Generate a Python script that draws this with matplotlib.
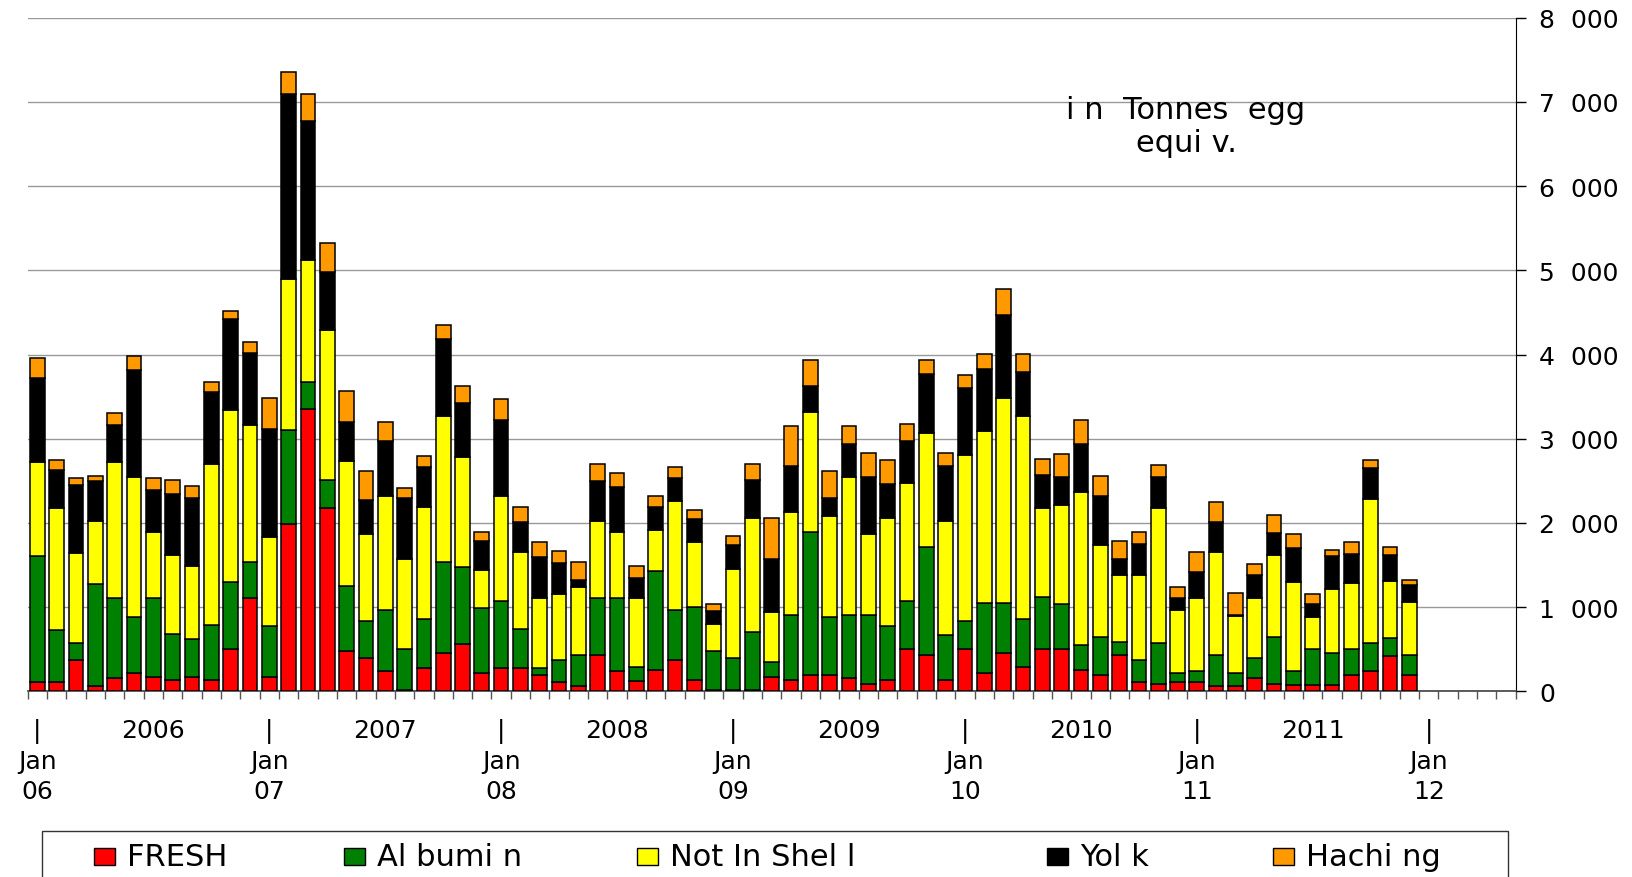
#!/usr/bin/env python3
"""Monthly egg product volumes as stacked bars, Jan 2006 - Dec 2011."""

import matplotlib

matplotlib.use("Agg")
import matplotlib.pyplot as plt
import numpy as np
from matplotlib.patches import Rectangle

# one value per month, Jan 06 .. Dec 11 (tonnes egg equivalent)
fresh = [
    106, 106, 373, 63, 155, 218, 174, 135, 174, 135, 508, 1103,
    169, 1984, 3348, 2177, 484, 397, 242, 10, 281, 460, 566, 218,
    281, 281, 194, 106, 63, 435, 242, 126, 256, 373, 131, 10,
    10, 10, 169, 135, 194, 194, 155, 87, 135, 508, 435, 135,
    508, 218, 460, 290, 508, 508, 256, 194, 435, 106, 87, 106,
    106, 63, 63, 155, 87, 80, 80, 80, 196, 239, 414, 196,
]
albumin = [
    1500, 620, 198, 1214, 948, 662, 929, 542, 445, 658, 793, 435,
    605, 1122, 329, 329, 764, 435, 726, 498, 575, 1078, 910, 769,
    793, 454, 87, 267, 372, 668, 871, 164, 1171, 595, 870, 474,
    387, 690, 184, 770, 1693, 686, 750, 818, 639, 566, 1282, 528,
    324, 832, 590, 566, 614, 532, 291, 445, 155, 267, 484, 112,
    136, 372, 155, 242, 552, 159, 424, 371, 308, 329, 223, 239,
]
not_in_shell = [
    1113, 1451, 1074, 740, 1616, 1660, 784, 944, 866, 1902, 2037, 1621,
    1064, 1790, 1442, 1781, 1490, 1031, 1354, 1064, 1331, 1728, 1311, 455,
    1248, 920, 832, 788, 808, 914, 774, 823, 484, 1291, 775, 319,
    1054, 1355, 590, 1224, 1427, 1200, 1635, 958, 1282, 1403, 1355, 1354,
    1974, 2046, 2433, 2410, 1055, 1171, 1824, 1093, 789, 1006, 1606, 750,
    871, 1224, 677, 716, 982, 1061, 382, 769, 785, 1713, 673, 626,
]
yolk = [
    1006, 455, 808, 484, 440, 1272, 498, 721, 813, 861, 1079, 857,
    1273, 2192, 1654, 696, 465, 411, 653, 721, 474, 919, 633, 348,
    895, 353, 484, 363, 78, 484, 542, 232, 276, 276, 275, 155,
    291, 460, 629, 542, 314, 218, 401, 677, 411, 498, 702, 654,
    798, 726, 992, 532, 387, 329, 570, 590, 193, 372, 363, 135,
    300, 349, 15, 266, 256, 398, 148, 382, 340, 372, 308, 196,
]
haching = [
    237, 116, 82, 53, 141, 170, 145, 169, 140, 121, 97, 130,
    372, 266, 315, 339, 363, 339, 218, 126, 135, 169, 208, 97,
    257, 184, 179, 145, 213, 199, 164, 145, 135, 126, 102, 73,
    106, 184, 484, 474, 305, 315, 204, 290, 276, 194, 159, 159,
    155, 184, 300, 208, 194, 280, 276, 232, 208, 146, 145, 131,
    242, 242, 261, 135, 213, 169, 122, 80, 148, 95, 96, 59,
]

series_names = ["FRESH", "Al bumi n", "Not In Shel l", "Yol k", "Hachi ng"]
years = ["2006", "2007", "2008", "2009", "2010", "2011"]
jan_labels = ["06", "07", "08", "09", "10", "11", "12"]
n_slots = 77  # axis runs on a few empty months past Dec 11

colors = ["#FF0000", "#008000", "#FFFF00", "#000000", "#FF9900"]

W, H = 1633, 878


def fx(px):
    return px / W


def fy(py):
    return 1 - py / H


fig = plt.figure(figsize=(W / 100, H / 100), dpi=100)
ax = fig.add_axes([0.01696, 0.2115, 0.9112, 0.7672])

x = np.arange(len(fresh))
bottom = np.zeros(len(fresh))
for vals, color, name in zip([fresh, albumin, not_in_shell, yolk, haching], colors, series_names):
    vals = np.array(vals, dtype=float)
    ax.bar(x, vals, width=0.76, bottom=bottom, color=color,
           edgecolor="black", linewidth=1.1, label=name, zorder=3)
    bottom += vals

ax.set_xlim(-0.5, n_slots - 0.5)
ax.set_ylim(0, 8000)

# y axis on the right, "8  000" style labels
ax.yaxis.tick_right()
yt = np.arange(0, 8001, 1000)
ax.set_yticks(yt)
ax.set_yticklabels(["0"] + [f"{v // 1000}  000" for v in yt[1:]], fontsize=18)
ax.tick_params(axis="y", direction="out", length=7, width=1, pad=10, colors="black")
ax.yaxis.grid(True, color="#999999", linewidth=1)
ax.set_axisbelow(True)

# month separators along the bottom
ax.set_xticks([])
ax.set_xticks(np.arange(-0.5, n_slots, 1), minor=True)
ax.tick_params(axis="x", which="minor", direction="out", length=6, width=1, color="#555555")

for side in ["left", "top"]:
    ax.spines[side].set_visible(False)
ax.spines["right"].set_color("black")
ax.spines["bottom"].set_color("#404040")
ax.spines["bottom"].set_linewidth(1.2)

# multi-level category labels
tr = ax.get_xaxis_transform()
for k, lab in enumerate(jan_labels):
    xi = 12 * k
    ax.text(xi, -0.0575, "|", transform=tr, ha="center", va="center", fontsize=18)
    ax.text(xi, -0.1033, "Jan", transform=tr, ha="center", va="center", fontsize=18)
    ax.text(xi, -0.1478, lab, transform=tr, ha="center", va="center", fontsize=18)
for k, yr in enumerate(years):
    ax.text(12 * k + 6, -0.0575, yr, transform=tr, ha="center", va="center", fontsize=18)

fig.text(fx(1186), fy(127), "i n  Tonnes  egg\nequi v.", ha="center", va="center",
         fontsize=22, linespacing=1.2)

# legend box along the bottom edge, running off the figure
fig.patches.append(Rectangle((fx(41.7), fy(832.3)), fx(1508) - fx(41.7), -0.1,
                             transform=fig.transFigure, facecolor="white",
                             edgecolor="#333333", linewidth=1.0, clip_on=False))
marker_left = [94, 344, 637, 1047, 1273]
for left, color, name in zip(marker_left, colors, series_names):
    fig.patches.append(Rectangle((fx(left), fy(866)), fx(21), 17 / H,
                                 transform=fig.transFigure, facecolor=color,
                                 edgecolor="black", linewidth=1.0))
    fig.text(fx(left + 33), fy(866.5), name, ha="left", va="baseline", fontsize=22)

fig.savefig("out.png", dpi=100)
